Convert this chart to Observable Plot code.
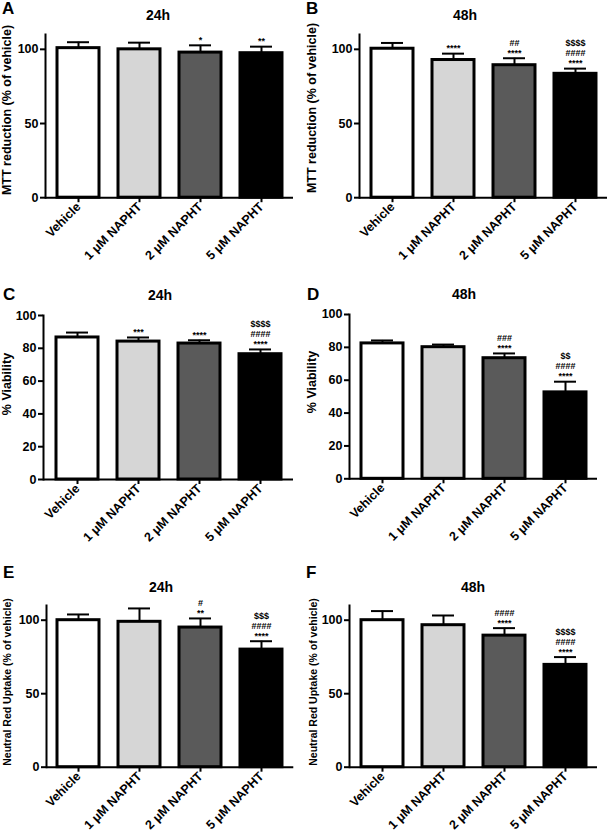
<!DOCTYPE html>
<html>
<head>
<meta charset="utf-8">
<script src="https://cdn.jsdelivr.net/npm/d3@7"></script>
<script src="https://cdn.jsdelivr.net/npm/@observablehq/plot@0.6"></script>
<style>
  html, body { margin: 0; padding: 0; background: #fff; }
  #root { position: relative; width: 609px; height: 834px; overflow: hidden;
          font-family: "Liberation Sans", Arial, sans-serif; font-weight: bold; color: #000; }
  .abs { position: absolute; white-space: nowrap; }
  .letter { font-size: 17px; line-height: 1; }
  .title { font-size: 14px; line-height: 1; transform: translate(-50%, -50%); }
  .ylab { transform: translate(-50%, -50%) rotate(-90deg); line-height: 1; }
  svg { overflow: visible; }
</style>
</head>
<body>
<div id="root"></div>
<script>
// ---- data ----
const categories = ["Vehicle", "1 μM NAPHT", "2 μM NAPHT", "5 μM NAPHT"];
const barColors = ["#ffffff", "#d6d6d6", "#5a5a5a", "#000000"];

const mttMean24 = [100.8, 100.0, 97.8, 97.4];
const mttErr24  = [4.0, 4.5, 4.9, 4.4];
const mttStars24 = ["", "", "*", "**"];

const mttMean48 = [100.4, 92.8, 89.3, 83.5];
const mttErr48  = [3.9, 4.3, 4.7, 3.5];
const mttStars48 = ["", "****", "##\n****", "$$$$\n####\n****"];

const viaMean24 = [86.6, 84.1, 82.9, 76.4];
const viaErr24  = [3.0, 2.5, 2.0, 2.9];
const viaStars24 = ["", "***", "****", "$$$$\n####\n****"];

const viaMean48 = [82.4, 80.1, 73.4, 52.6];
const viaErr48  = [1.8, 1.6, 2.9, 6.5];
const viaStars48 = ["", "", "###\n****", "$$\n####\n****"];

const nruMean24 = [100.0, 98.9, 95.0, 80.0];
const nruErr24  = [3.9, 9.1, 6.2, 5.7];
const nruStars24 = ["", "", "#\n**", "$$$\n####\n****"];

const nruMean48 = [100.0, 96.6, 89.5, 69.6];
const nruErr48  = [6.2, 6.6, 5.1, 5.3];
const nruStars48 = ["", "", "####\n****", "$$$$\n####\n****"];

const ticks110 = [0, 50, 100];
const ticks100 = [0, 20, 40, 60, 80, 100];

// ---- layout (frame edges in page pixels) ----
const panels = [
  {letter: "A", title: "24h", ylabel: "MTT reduction (% of vehicle)", mean: mttMean24, err: mttErr24, stars: mttStars24,
   domain: [0, 110], ticks: ticks110, l: 45, r: 293, t: 33.5, b: 196.7,
   letterPos: [2, 0], titlePos: [158, 15], ylabPos: [7, 110], ylabSize: 12.5},
  {letter: "B", title: "48h", ylabel: "MTT reduction (% of vehicle)", mean: mttMean48, err: mttErr48, stars: mttStars48,
   domain: [0, 110], ticks: ticks110, l: 359, r: 607, t: 33.5, b: 196.7,
   letterPos: [306, 0], titlePos: [465, 15], ylabPos: [312, 108], ylabSize: 12.5},
  {letter: "C", title: "24h", ylabel: "% Viability", mean: viaMean24, err: viaErr24, stars: viaStars24,
   domain: [0, 100], ticks: ticks100, l: 43, r: 293, t: 315.3, b: 479.3,
   letterPos: [3, 286], titlePos: [160, 295], ylabPos: [7, 384], ylabSize: 12.5},
  {letter: "D", title: "48h", ylabel: "% Viability", mean: viaMean48, err: viaErr48, stars: viaStars48,
   domain: [0, 100], ticks: ticks100, l: 349, r: 597, t: 314, b: 478.3,
   letterPos: [307, 286], titlePos: [464, 294], ylabPos: [312, 382], ylabSize: 12.5},
  {letter: "E", title: "24h", ylabel: "Neutral Red Uptake (% of vehicle)", mean: nruMean24, err: nruErr24, stars: nruStars24,
   domain: [0, 110], ticks: ticks110, l: 45.7, r: 293, t: 605, b: 766.7,
   letterPos: [3, 564], titlePos: [161, 587], ylabPos: [7, 682], ylabSize: 10.5},
  {letter: "F", title: "48h", ylabel: "Neutral Red Uptake (% of vehicle)", mean: nruMean48, err: nruErr48, stars: nruStars48,
   domain: [0, 110], ticks: ticks110, l: 349, r: 597, t: 605, b: 766.7,
   letterPos: [306, 564], titlePos: [473, 587], ylabPos: [313, 682], ylabSize: 10.5}
];

const root = document.getElementById("root");

function addDiv(cls, text, x, y, extra) {
  const d = document.createElement("div");
  d.className = "abs " + cls;
  d.textContent = text;
  d.style.left = x + "px";
  d.style.top = y + "px";
  if (extra) Object.assign(d.style, extra);
  root.appendChild(d);
}

for (const p of panels) {
  const data = categories.map((c, i) => ({cat: c, v: p.mean[i], top: p.mean[i] + p.err[i], s: p.stars[i]}));
  const mL = 45, mR = 4, mT = 4, mB = 66;
  const plot = Plot.plot({
    width: (p.r - p.l) + mL + mR,
    height: (p.b - p.t) + mT + mB,
    marginLeft: mL, marginRight: mR, marginTop: mT, marginBottom: mB,
    x: {domain: categories, paddingInner: 0.315, paddingOuter: 0.18, label: null, axis: null},
    y: {domain: p.domain, label: null, axis: null},
    color: {domain: categories, range: barColors},
    style: {fontFamily: "'Liberation Sans', Arial, sans-serif", fontWeight: "bold", background: "transparent", overflow: "visible", color: "#000"},
    marks: [
      Plot.ruleX(data, {x: "cat", y1: "v", y2: "top", stroke: "#000", strokeWidth: 2}),
      Plot.tickY(data, {x: "cat", y: "top", stroke: "#000", strokeWidth: 2, insetLeft: 10, insetRight: 10}),
      Plot.barY(data, {x: "cat", y: "v", fill: "cat", stroke: "#000", strokeWidth: 3}),
      Plot.text(data, {x: "cat", y: "top", text: "s", lineAnchor: "bottom", dy: -2.5, fontSize: 9, lineHeight: 1.1, fill: "#000"}),
      Plot.axisY({ticks: p.ticks, tickSize: 5, tickPadding: 2, fontSize: 12.5, strokeWidth: 2, label: null}),
      Plot.axisX({tickRotate: -45, tickSize: 5, tickPadding: 2, fontSize: 12.5, strokeWidth: 2, label: null}),
      Plot.ruleY([0], {stroke: "#000", strokeWidth: 2}),
      Plot.frame({anchor: "left", stroke: "#000", strokeWidth: 2})
    ]
  });
  plot.style.position = "absolute";
  plot.style.left = (p.l - mL) + "px";
  plot.style.top = (p.t - mT) + "px";
  root.appendChild(plot);

  addDiv("letter", p.letter, p.letterPos[0], p.letterPos[1]);
  addDiv("title", p.title, p.titlePos[0], p.titlePos[1]);
  addDiv("ylab", p.ylabel, p.ylabPos[0], p.ylabPos[1], {fontSize: p.ylabSize + "px"});
}
</script>
</body>
</html>
